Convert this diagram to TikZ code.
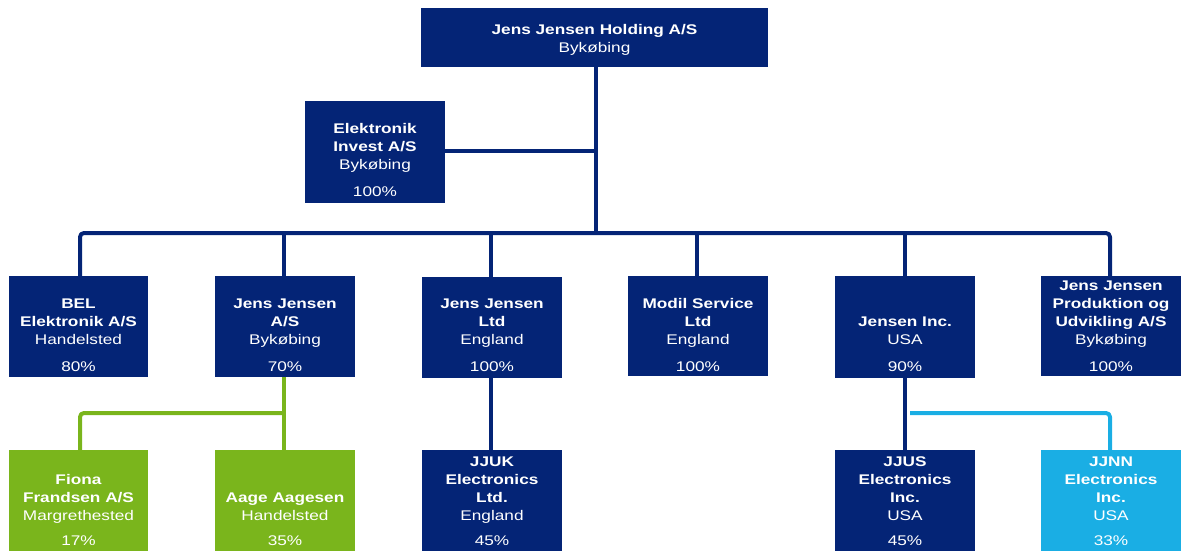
\documentclass[tikz,border=0pt]{standalone}
\usepackage{fontspec}
\setmainfont{Liberation Sans}[FakeStretch=1.23]
\definecolor{navy}{RGB}{4,36,118}
\definecolor{lgreen}{RGB}{122,181,28}
\definecolor{lblue}{RGB}{26,174,228}
\tikzset{
  lbl/.style={text=white, align=center, inner sep=0pt, anchor=base, font=\fontsize{14pt}{18pt}\selectfont},
  conn/.style={line width=4pt, line join=round, rounded corners=4pt},
}
\newcommand{\nm}[1]{\textbf{#1}}
\begin{document}
\begin{tikzpicture}[x=1pt,y=-1pt]
\useasboundingbox (0,0) rectangle (1183,550);
\clip (0,0) rectangle (1183,550);
% boxes
\fill[navy] (421,8) rectangle (768,67);
\node[lbl] (ttop) at (594.5,52) {\nm{Jens Jensen Holding A/S}\\Bykøbing};

\fill[navy] (305,101) rectangle (445,203);
\node[lbl] (tei) at (375,196) {\nm{Elektronik}\\\nm{Invest A/S}\\Bykøbing\\[9pt]100\%};

% row 2
\fill[navy] (9,276) rectangle (148,377);
\node[lbl] (tbel) at (78.5,371) {\nm{BEL}\\\nm{Elektronik A/S}\\Handelsted\\[9pt]80\%};
\fill[navy] (215,276) rectangle (355,377);
\node[lbl] (tjja) at (285,371) {\nm{Jens Jensen}\\\nm{A/S}\\Bykøbing\\[9pt]70\%};
\fill[navy] (422,277) rectangle (562,378);
\node[lbl] (tjjl) at (492,371) {\nm{Jens Jensen}\\\nm{Ltd}\\England\\[9pt]100\%};
\fill[navy] (628,276) rectangle (768,376);
\node[lbl] (tmod) at (698,371) {\nm{Modil Service}\\\nm{Ltd}\\England\\[9pt]100\%};
\fill[navy] (835,276) rectangle (975,378);
\node[lbl] (tjin) at (905,371) {\nm{Jensen Inc.}\\USA\\[9pt]90\%};
\fill[navy] (1041,276) rectangle (1181,376);
\node[lbl] (tpro) at (1111,371) {\nm{Jens Jensen}\\\nm{Produktion og}\\\nm{Udvikling A/S}\\Bykøbing\\[9pt]100\%};

% row 3
\fill[lgreen] (9,450) rectangle (148,560);
\node[lbl] (tfio) at (78.5,545) {\nm{Fiona}\\\nm{Frandsen A/S}\\Margrethested\\[7pt]17\%};
\fill[lgreen] (215,450) rectangle (355,560);
\node[lbl] (taag) at (285,545) {\nm{Aage Aagesen}\\Handelsted\\[7pt]35\%};
\fill[navy] (422,450) rectangle (562,560);
\node[lbl] (tjjuk) at (492,545) {\nm{JJUK}\\\nm{Electronics}\\\nm{Ltd.}\\England\\[7pt]45\%};
\fill[navy] (835,450) rectangle (975,560);
\node[lbl] (tjjus) at (905,545) {\nm{JJUS}\\\nm{Electronics}\\\nm{Inc.}\\USA\\[7pt]45\%};
\fill[lblue] (1041,450) rectangle (1181,560);
\node[lbl] (tjjnn) at (1111,545) {\nm{JJNN}\\\nm{Electronics}\\\nm{Inc.}\\USA\\[7pt]33\%};

% connectors
\draw[conn,navy] (596,67) -- (596,233);
\draw[conn,navy] (445,151) -- (596,151);
\draw[conn,navy] (80,276) -- (80,233) -- (1110,233) -- (1110,276);
\draw[conn,navy] (284,233) -- (284,276);
\draw[conn,navy] (491,233) -- (491,277);
\draw[conn,navy] (697,233) -- (697,276);
\draw[conn,navy] (905,233) -- (905,276);
\draw[conn,navy] (491,378) -- (491,450);
\draw[conn,navy] (905,378) -- (905,450);
\draw[conn,lgreen] (284,377) -- (284,450);
\draw[conn,lgreen] (282,413) -- (80,413) -- (80,450);
\draw[conn,lblue] (910,413) -- (1110,413) -- (1110,450);
\end{tikzpicture}
\end{document}
